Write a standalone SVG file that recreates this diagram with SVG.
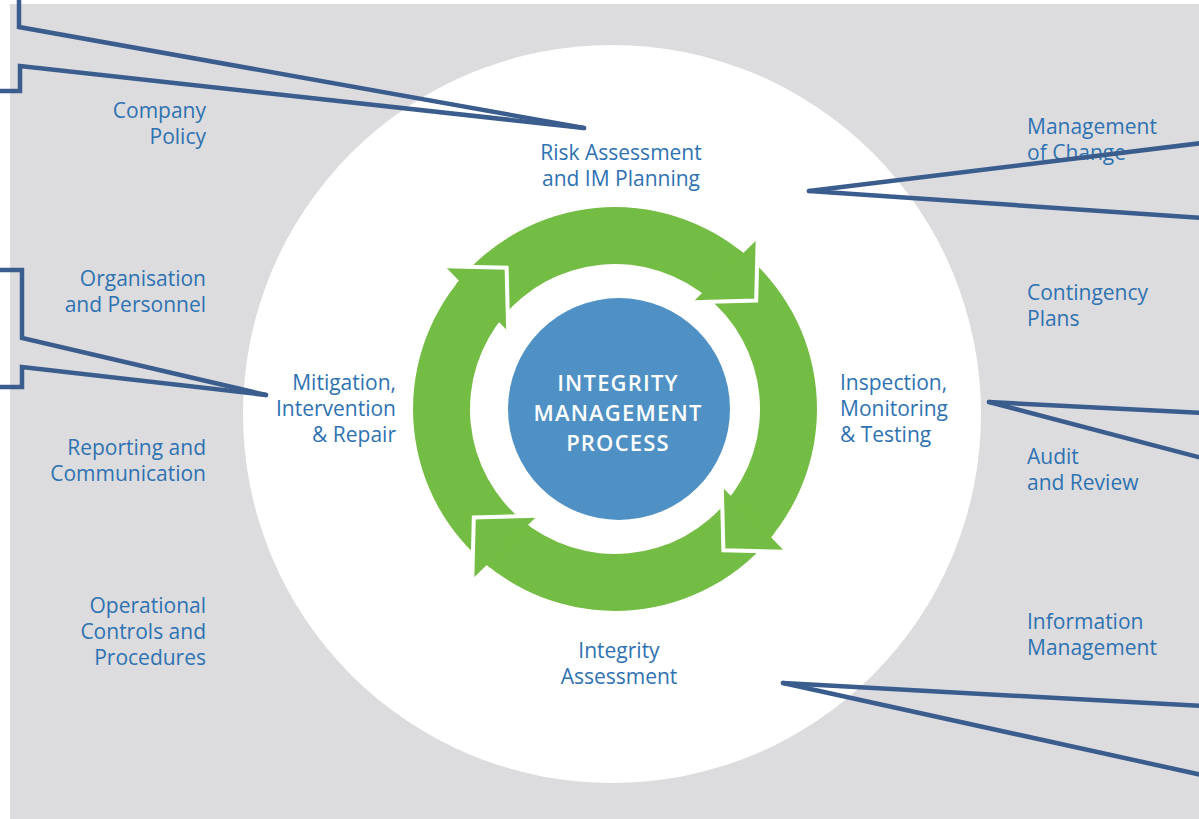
<svg xmlns="http://www.w3.org/2000/svg" xmlns:xlink="http://www.w3.org/1999/xlink" width="1199" height="819" viewBox="0 0 1199 819">
  <style>
    .lbl { font-family: "Open Sans", "Noto Sans", "Liberation Sans", sans-serif; font-size: 21px; fill: #2e72b2; }
    .ctr { font-family: "Open Sans", "Noto Sans", "Liberation Sans", sans-serif; font-size: 22px; font-weight: 600; letter-spacing: 1.2px; fill: #ffffff; text-anchor: middle; }
    .end { text-anchor: end; }
    .mid { text-anchor: middle; }
    .conn { fill: none; stroke: #3a5d8e; stroke-width: 4.5; stroke-linecap: round; stroke-linejoin: miter; }
    .body { fill: #74bd44; }
    .head { fill: #74bd44; }
    .edge { fill: none; stroke: #ffffff; stroke-width: 4; stroke-linejoin: miter; }
  </style>
  <defs>
    <path id="arrowBody" d="M455.8,284.6 A202,202 0 0 1 747.5,256.6 L710.1,299.6 A145,145 0 0 0 500.7,319.7 Z"/>
    <g id="arrowHead">
      <path class="head" d="M757.7,238.9 L756.2,300.6 L692.6,302.2 Z"/>
      <path class="edge" d="M757.7,238.9 L756.2,300.6 L692.6,302.2"/>
    </g>
  </defs>

  <rect id="background" x="10" y="4" width="1189" height="815" fill="#dcdcde"/>
  <circle id="white-disc" cx="612" cy="414" r="369" fill="#ffffff"/>

  <g id="process-cycle">
    <use xlink:href="#arrowBody" class="body"/>
    <use xlink:href="#arrowBody" class="body" transform="rotate(90 615 409)"/>
    <use xlink:href="#arrowBody" class="body" transform="rotate(180 615 409)"/>
    <use xlink:href="#arrowBody" class="body" transform="rotate(270 615 409)"/>
    <use xlink:href="#arrowHead"/>
    <use xlink:href="#arrowHead" transform="rotate(90 615 409)"/>
    <use xlink:href="#arrowHead" transform="rotate(180 615 409)"/>
    <use xlink:href="#arrowHead" transform="rotate(270 615 409)"/>
  </g>

  <g id="center-node">
    <circle cx="619" cy="409" r="111" fill="#4f91c4"/>
    <text class="ctr" x="618" y="391">INTEGRITY</text>
    <text class="ctr" x="618" y="421">MANAGEMENT</text>
    <text class="ctr" x="618" y="451">PROCESS</text>
  </g>

  <g id="risk-assessment">
    <text class="lbl mid" x="621" y="160">Risk Assessment</text>
    <text class="lbl mid" x="621" y="186">and IM Planning</text>
  </g>
  <g id="inspection">
    <text class="lbl" x="840" y="390">Inspection,</text>
    <text class="lbl" x="840" y="416">Monitoring</text>
    <text class="lbl" x="840" y="442">&amp; Testing</text>
  </g>
  <g id="integrity-assessment">
    <text class="lbl mid" x="619" y="658">Integrity</text>
    <text class="lbl mid" x="619" y="684">Assessment</text>
  </g>
  <g id="mitigation">
    <text class="lbl end" x="396" y="390">Mitigation,</text>
    <text class="lbl end" x="396" y="416">Intervention</text>
    <text class="lbl end" x="396" y="442">&amp; Repair</text>
  </g>

  <g id="company-policy">
    <text class="lbl end" x="206" y="118">Company</text>
    <text class="lbl end" x="206" y="144">Policy</text>
  </g>
  <g id="organisation">
    <text class="lbl end" x="206" y="286">Organisation</text>
    <text class="lbl end" x="206" y="312">and Personnel</text>
  </g>
  <g id="reporting">
    <text class="lbl end" x="206" y="455">Reporting and</text>
    <text class="lbl end" x="206" y="481">Communication</text>
  </g>
  <g id="operational">
    <text class="lbl end" x="206" y="613">Operational</text>
    <text class="lbl end" x="206" y="639">Controls and</text>
    <text class="lbl end" x="206" y="665">Procedures</text>
  </g>

  <g id="management-of-change">
    <text class="lbl" x="1027" y="134">Management</text>
    <text class="lbl" x="1027" y="160">of Change</text>
  </g>
  <g id="contingency">
    <text class="lbl" x="1027" y="300">Contingency</text>
    <text class="lbl" x="1027" y="326">Plans</text>
  </g>
  <g id="audit">
    <text class="lbl" x="1027" y="464">Audit</text>
    <text class="lbl" x="1027" y="490">and Review</text>
  </g>
  <g id="information">
    <text class="lbl" x="1027" y="629">Information</text>
    <text class="lbl" x="1027" y="655">Management</text>
  </g>

  <g id="connectors">
    <path class="conn" d="M19,-3 L19,27 L584,128"/>
    <path class="conn" d="M-3,91 L20,91 L20,66 L584,128"/>
    <path class="conn" d="M-3,270 L22,270 L22,338 L266,395"/>
    <path class="conn" d="M-3,387 L22,387 L22,367 L266,395"/>
    <path class="conn" d="M809,191 L1202,143"/>
    <path class="conn" d="M809,191 L1202,218"/>
    <path class="conn" d="M989,402 L1202,413"/>
    <path class="conn" d="M989,402 L1202,458"/>
    <path class="conn" d="M783,683 L1202,706"/>
    <path class="conn" d="M783,683 L1202,775"/>
  </g>
</svg>
